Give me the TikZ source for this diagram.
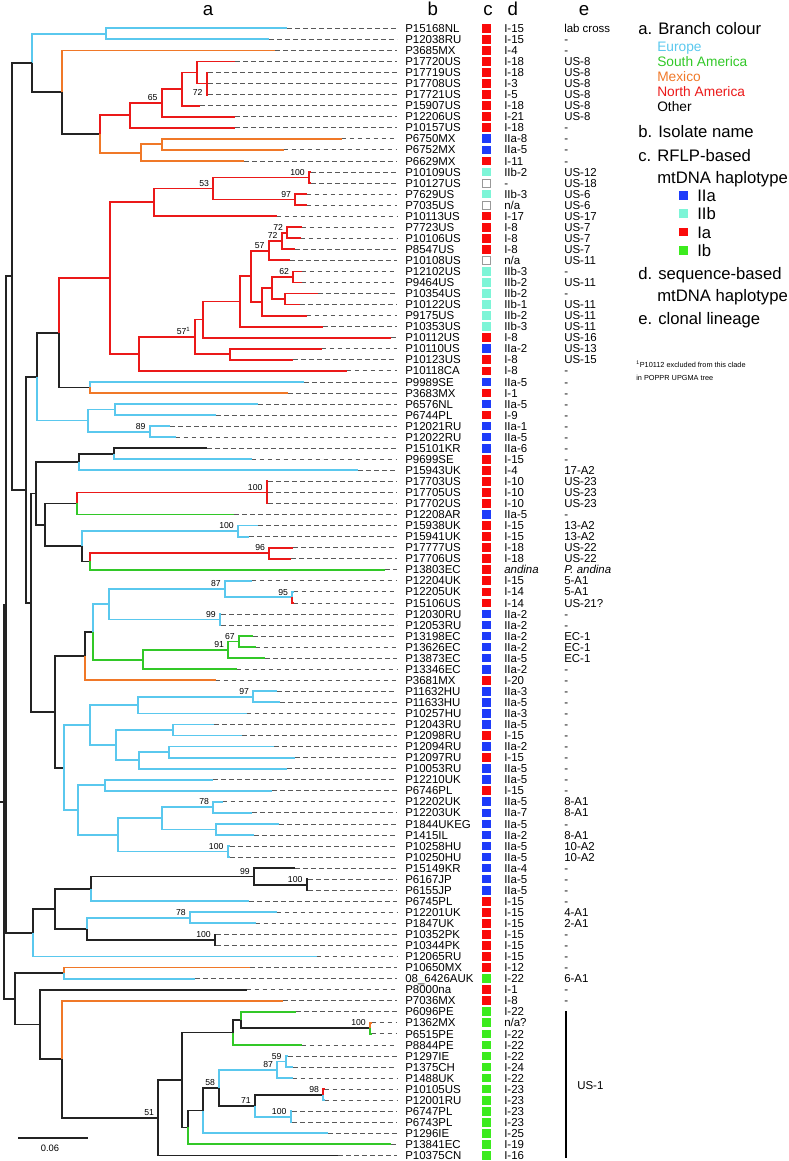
\documentclass[tikz,border=0pt]{standalone}
\usepackage{fontspec}
\setmainfont{Liberation Sans}
\usepackage{xcolor}
\usepackage{tikz}
\usetikzlibrary{positioning}
\definecolor{europe}{RGB}{90,200,238}
\definecolor{southam}{RGB}{50,200,40}
\definecolor{mexico}{RGB}{240,120,40}
\definecolor{northam}{RGB}{235,25,25}
\definecolor{other}{RGB}{35,35,35}
\definecolor{hapIa}{RGB}{250,10,10}
\definecolor{hapIb}{RGB}{60,235,30}
\definecolor{hapIIa}{RGB}{30,60,250}
\definecolor{hapIIb}{RGB}{125,245,215}

\begin{document}
\begin{tikzpicture}[x=0.75pt, y=-0.75pt,
    br/.style={line width=1.35pt},
    brEU/.style={br, draw=europe},
    brSA/.style={br, draw=southam},
    brMX/.style={br, draw=mexico},
    brNA/.style={br, draw=northam},
    brOT/.style={br, draw=other},
    lead/.style={draw=black!65, line width=0.6pt, dash pattern=on 3.5pt off 2.5pt, shorten >=6pt},
    leaf/.style={anchor=west, inner sep=0pt, font=\fontsize{8.6}{10}\selectfont, text height=6.2pt, text depth=0pt},
    hap/.style={minimum size=6.5pt, inner sep=0pt, outer sep=0pt},
    hIa/.style={hap, fill=hapIa},
    hIb/.style={hap, fill=hapIb},
    hIIa/.style={hap, fill=hapIIa},
    hIIb/.style={hap, fill=hapIIb},
    hNA/.style={hap, fill=white, draw=black!40, line width=0.5pt, minimum size=6pt},
    boot/.style={anchor=south east, inner sep=0pt, xshift=-3pt, yshift=1.5pt, font=\fontsize{6.5}{7}\selectfont},
    head/.style={anchor=base, inner sep=0pt, font=\fontsize{14}{16}\selectfont},
    lgmain/.style={anchor=west, inner sep=0pt, font=\fontsize{12.5}{14}\selectfont, text height=9pt, text depth=0pt},
    lgsub/.style={anchor=west, inner sep=0pt, font=\fontsize{10.3}{12}\selectfont, text height=7.4pt, text depth=0pt},
    foot/.style={anchor=west, inner sep=0pt, font=\fontsize{5.5}{6.5}\selectfont, text height=3.9pt, text depth=0pt}]

  \useasboundingbox (0,0) rectangle (789,1161);

  \node[head] (hda) at (208,15) {a};
  \node[head] (hdb) at (432.7,15) {b};
  \node[head] (hdc) at (488,15) {c};
  \node[head] (hdd) at (512.7,15) {d};
  \node[head] (hde) at (584,15) {e};

  \begin{scope}[y=-8.2875pt, yshift=-12.94pt]
    \foreach \n/\x/\y in {A/105.7/1.5, B/31.7/4.14, C/62/6.78, D/100.3/10.56, E/130/8.875,
        F/161.7/7.75, G/182.3/6.5, H/196.7/5, I/206.7/6, J/140.7/12.25, K/162/11.5,
        EE/12/23.45, DD/26/42.75, BB/37.3/32.53, L/59/28.55, M/110/23.61, N/90/33.5,
        O/154/16.75, P/213.3/15.5, Q/309/14.5, R/295.3/16.5, S/138.7/30.47, T/194.7/28.93,
        U/230/30.5, V/203.3/27.36, W/240/25.72, X/250.7/23.44, Y/262.3/25.75, Z/271.7/24.5,
        nd1920/287.3/19.5, nd1921/281.7/20.25, nd1922/268.7/21.13, nd2324/293.3/23.5, nd2526/285/25.5,
        CC/87.7/36.5, nd3536/114.7/35.5, nd3738/149.7/37.5,
        FF/30.7/52.98, GG/36/43.09, HH/79/40.25, nd3940/114/39.5, II/45/45.94, JJ/77.3/44,
        nd4244/266.7/43, KK/82.3/47.88, nd4647/238/46.5, LL/90/49.25, nd4849/269.3/48.5,
        MM/55/62.86, NN/85/57.81, OO/93.3/55.63, PP/109.3/53.13, nd5153/225/51.75,
        nd5253/292.3/52.5, nd5455/220/54.5, RR/143.3/58.13, nd5658/228.3/57.25, nd5657/239/56.5,
        SS/64/67.91, TT/90/64.06, UU/138.3/62.25, nd6162/253.3/61.5, VV/116/65.88,
        nd6465/173.3/64.5, WW/139/67.25, nd6667/169.3/66.5, XX/78.3/71.75, nd6970/105/69.5,
        YY/118.3/74, ZZ/161.7/72.5, nd7172/213.3/71.5, nd7374/215.7/73.5, nd7576/227.7/75.5,
        ROOT/4/70.99, R1/6/53.15, AAA/33.3/82.84, BBB/55/80.69, CCC/91/78.88,
        nd7779/254/77.75, nd7879/306.7/78.5, DDD/86.7/82.5, nd8182/190/81.5, nd8384/215/83.5,
        R2/15/88.82, EEE/64.3/86.5, FFF/40/91.15, GGG/61.7/94.3, nd51/158.3/99.59,
        HHH/181.7/96.17, III/233.3/91.88, JJJ/240.7/90.75, nd9192/370/91.5, KKK/188.3/100.47,
        LLL/203.3/98.94, MMM/219.3/96.88, nd9496/277.3/95.25, nd9495/285.7/94.5, nd71/255/98.5,
        nd9798/323.3/97.5, nd99100/290.7/99.5}
      \coordinate (\n) at (\x,\y);

    \foreach \p/\c/\b in {B/A/brEU, B/C/brOT, C/D/brOT, D/E/brNA, D/J/brMX, E/F/brNA,
        F/G/brNA, G/H/brNA, H/I/brNA, J/K/brMX, EE/B/brOT, EE/DD/brOT, DD/BB/brOT,
        DD/FF/brOT, BB/L/brOT, BB/CC/brEU, L/M/brNA, L/N/brOT, M/O/brNA, M/S/brNA,
        O/P/brNA, P/Q/brNA, P/R/brNA, S/T/brNA, T/V/brNA, T/U/brNA, V/W/brNA, W/X/brNA,
        X/nd1922/brNA, X/Y/brNA, nd1922/nd1921/brNA, nd1921/nd1920/brNA, Y/Z/brNA,
        Z/nd2324/brNA, Z/nd2526/brNA, CC/nd3536/brEU, CC/nd3738/brEU, FF/GG/brOT, FF/MM/brOT,
        GG/HH/brOT, GG/II/brOT, HH/nd3940/brOT, II/JJ/brOT, II/KK/brOT, JJ/nd4244/brNA,
        KK/nd4647/brEU, KK/LL/brOT, LL/nd4849/brNA, MM/NN/brOT, MM/SS/brOT, NN/OO/brOT,
        OO/PP/brEU, OO/RR/brSA, PP/nd5153/brEU, PP/nd5455/brEU, nd5153/nd5253/brEU,
        RR/nd5658/brSA, nd5658/nd5657/brSA, SS/TT/brEU, SS/XX/brEU, TT/UU/brEU, TT/VV/brEU,
        UU/nd6162/brEU, VV/nd6465/brEU, VV/WW/brEU, WW/nd6667/brEU, XX/nd6970/brEU, XX/YY/brEU,
        YY/ZZ/brEU, YY/nd7576/brEU, ZZ/nd7172/brEU, ZZ/nd7374/brEU, ROOT/R1/brOT, ROOT/R2/brOT,
        R1/EE/brOT, R1/AAA/brOT, AAA/BBB/brOT, BBB/CCC/brOT, BBB/DDD/brOT, CCC/nd7779/brOT,
        nd7779/nd7879/brOT, DDD/nd8182/brEU, DDD/nd8384/brOT, R2/EEE/brOT, R2/FFF/brOT,
        FFF/GGG/brOT, GGG/nd51/brOT, nd51/HHH/brOT, HHH/III/brOT, HHH/KKK/brOT, III/JJJ/brOT,
        JJJ/nd9192/brOT, KKK/LLL/brOT, LLL/MMM/brOT, MMM/nd9496/brEU, MMM/nd71/brOT,
        nd9496/nd9495/brEU, nd71/nd9798/brOT, nd71/nd99100/brEU}
      \draw[\b] (\p) |- (\c);

    \foreach \i/\p/\b/\t/\nm/\hp/\hd/\cl in {
        1/A/brEU/287/P15168NL/hIa/I-15/lab cross,
        2/A/brEU/269/P12038RU/hIa/I-15/-,
        3/C/brMX/275.3/P3685MX/hIa/I-4/-,
        4/H/brNA/235.3/P17720US/hIa/I-18/US-8,
        5/I/brNA/208/P17719US/hIa/I-18/US-8,
        6/I/brNA/208/P17708US/hIa/I-3/US-8,
        7/I/brNA/208/P17721US/hIa/I-5/US-8,
        8/G/brNA/200/P15907US/hIa/I-18/US-8,
        9/F/brNA/235.3/P12206US/hIa/I-21/US-8,
        10/E/brNA/235.3/P10157US/hIa/I-18/-,
        11/K/brMX/341.7/P6750MX/hIIa/IIa-8/-,
        12/K/brMX/283.7/P6752MX/hIIa/IIa-5/-,
        13/J/brMX/244.3/P6629MX/hIa/I-11/-,
        14/Q/brNA/311/P10109US/hIIb/IIb-2/US-12,
        15/Q/brNA/311/P10127US/hNA/-/US-18,
        16/R/brNA/306.7/P7629US/hIIb/IIb-3/US-6,
        17/R/brNA/306.7/P7035US/hNA/{n/a}/US-6,
        18/O/brNA/276.7/P10113US/hIa/I-17/US-17,
        19/nd1920/brNA/301.7/P7723US/hIa/I-8/US-7,
        20/nd1920/brNA/300.7/P10106US/hIa/I-8/US-7,
        21/nd1921/brNA/295/P8547US/hIa/I-8/US-7,
        22/nd1922/brNA/290/P10108US/hNA/{n/a}/US-11,
        23/nd2324/brNA/301.7/P12102US/hIIb/IIb-3/-,
        24/nd2324/brNA/301.7/P9464US/hIIb/IIb-2/US-11,
        25/nd2526/brNA/318.3/P10354US/hIIb/IIb-2/-,
        26/nd2526/brNA/300/P10122US/hIIb/IIb-1/US-11,
        27/Y/brNA/306.7/P9175US/hIIb/IIb-2/US-11,
        28/W/brNA/323.3/P10353US/hIIb/IIb-3/US-11,
        29/V/brNA/391/P10112US/hIa/I-8/US-16,
        30/U/brNA/321.7/P10110US/hIIa/IIa-2/US-13,
        31/U/brNA/293.3/P10123US/hIa/I-8/US-15,
        32/S/brNA/346.7/P10118CA/hIa/I-8/-,
        33/N/brEU/304/P9989SE/hIIa/IIa-5/-,
        34/N/brMX/288.3/P3683MX/hIa/I-1/-,
        35/nd3536/brEU/258.3/P6576NL/hIIa/IIa-5/-,
        36/nd3536/brEU/216/P6744PL/hIa/I-9/-,
        37/nd3738/brEU/170/P12021RU/hIIa/IIa-1/-,
        38/nd3738/brEU/175.7/P12022RU/hIIa/IIa-5/-,
        39/nd3940/brOT/207.3/P15101KR/hIIa/IIa-6/-,
        40/nd3940/brEU/251.7/P9699SE/hIa/I-15/-,
        41/HH/brEU/358.3/P15943UK/hIa/I-4/17-A2,
        42/nd4244/brNA/268/P17703US/hIa/I-10/US-23,
        43/nd4244/brNA/268/P17705US/hIa/I-10/US-23,
        44/nd4244/brNA/268/P17702US/hIa/I-10/US-23,
        45/JJ/brSA/234.3/P12208AR/hIIa/IIa-5/-,
        46/nd4647/brEU/258.3/P15938UK/hIa/I-15/13-A2,
        47/nd4647/brEU/249.3/P15941UK/hIa/I-15/13-A2,
        48/nd4849/brNA/293.3/P17777US/hIa/I-18/US-22,
        49/nd4849/brNA/291/P17706US/hIa/I-18/US-22,
        50/LL/brSA/385/P13803EC/hIa/\textit{andina}/\textit{P. andina},
        51/nd5153/brEU/251.7/P12204UK/hIa/I-15/5-A1,
        52/nd5253/brEU/293.5/P12205UK/hIa/I-14/5-A1,
        53/nd5253/brNA/293.5/P15106US/hIa/I-14/US-21?,
        54/nd5455/brEU/221/P12030RU/hIIa/IIa-2/-,
        55/nd5455/brEU/221/P12053RU/hIIa/IIa-2/-,
        56/nd5657/brSA/253.3/P13198EC/hIIa/IIa-2/EC-1,
        57/nd5657/brSA/255.7/P13626EC/hIIa/IIa-2/EC-1,
        58/nd5658/brSA/265/P13873EC/hIIa/IIa-5/EC-1,
        59/RR/brSA/236.7/P13346EC/hIIa/IIa-2/-,
        60/NN/brMX/215.7/P3681MX/hIa/I-20/-,
        61/nd6162/brEU/277.3/P11632HU/hIIa/IIa-3/-,
        62/nd6162/brEU/280/P11633HU/hIIa/IIa-5/-,
        63/UU/brEU/246.7/P10257HU/hIIa/IIa-3/-,
        64/nd6465/brEU/214.3/P12043RU/hIIa/IIa-5/-,
        65/nd6465/brEU/242.3/P12098RU/hIa/I-15/-,
        66/nd6667/brEU/274.3/P12094RU/hIIa/IIa-2/-,
        67/nd6667/brEU/295/P12097RU/hIa/I-15/-,
        68/WW/brEU/287.3/P10053RU/hIIa/IIa-5/-,
        69/nd6970/brEU/213.3/P12210UK/hIIa/IIa-5/-,
        70/nd6970/brEU/272.3/P6746PL/hIa/I-15/-,
        71/nd7172/brEU/222.7/P12202UK/hIIa/IIa-5/8-A1,
        72/nd7172/brEU/252.3/P12203UK/hIIa/IIa-7/8-A1,
        73/nd7374/brEU/279.3/P1844UKEG/hIIa/IIa-5/-,
        74/nd7374/brEU/254.3/P1415IL/hIIa/IIa-2/8-A1,
        75/nd7576/brEU/230/P10258HU/hIIa/IIa-5/10-A2,
        76/nd7576/brEU/230/P10250HU/hIIa/IIa-5/10-A2,
        77/nd7779/brOT/295/P15149KR/hIIa/IIa-4/-,
        78/nd7879/brOT/308/P6167JP/hIIa/IIa-5/-,
        79/nd7879/brOT/308/P6155JP/hIIa/IIa-5/-,
        80/CCC/brEU/249.3/P6745PL/hIa/I-15/-,
        81/nd8182/brEU/276.7/P12201UK/hIa/I-15/4-A1,
        82/nd8182/brEU/255.7/P1847UK/hIa/I-15/2-A1,
        83/nd8384/brOT/216/P10352PK/hIa/I-15/-,
        84/nd8384/brOT/216/P10344PK/hIa/I-15/-,
        85/AAA/brEU/316.7/P12065RU/hIa/I-15/-,
        86/EEE/brMX/250/P10650MX/hIa/I-12/-,
        87/EEE/brEU/195/08\_6426AUK/hIb/I-22/6-A1,
        88/FFF/brOT/246.7/P8000na/hIa/I-1/-,
        89/GGG/brMX/283.3/P7036MX/hIa/I-8/-,
        90/JJJ/brSA/296/P6096PE/hIb/I-22/{},
        91/nd9192/brMX/371.5/P1362MX/hIb/{n/a?}/{},
        92/nd9192/brSA/371.5/P6515PE/hIb/I-22/{},
        93/III/brSA/301.7/P8844PE/hIb/I-22/{},
        94/nd9495/brEU/288.3/P1297IE/hIb/I-22/{},
        95/nd9495/brEU/293.3/P1375CH/hIb/I-24/{},
        96/nd9496/brEU/292.7/P1488UK/hIb/I-22/{},
        97/nd9798/brNA/324.5/P10105US/hIb/I-23/{},
        98/nd9798/brEU/324.5/P12001RU/hIb/I-23/{},
        99/nd99100/brEU/292/P6747PL/hIb/I-23/{},
        100/nd99100/brEU/292/P6743PL/hIb/I-23/{},
        101/LLL/brEU/328.3/P1296IE/hIb/I-25/{},
        102/KKK/brSA/391/P13841EC/hIb/I-19/{},
        103/nd51/brOT/338.3/P10375CN/hIb/I-16/{}}{
      \coordinate (t\i) at (\t,\i);
      \draw[\b] (\p) |- (t\i);
      \node[leaf] (n\i) at (405,\i) {\nm};
      \draw[lead] (t\i) -- (n\i.west);
      \node[\hp] (h\i) at (486.5,\i) {};
      \node[leaf] (d\i) at (504,\i) {\hd};
      \node[leaf] (e\i) at (564,\i) {\cl};
    }

    \foreach \n/\v in {F/65, nd1920/72, nd1921/72, nd1922/57, nd2324/62, P/53, Q/100, R/97,
        T/57\textsuperscript{1}, nd3738/89, nd4244/100, nd4647/100, nd4849/96, nd5153/87, nd5253/95,
        nd5455/99, nd5657/67, nd5658/91, nd6162/97, nd7172/78, nd7576/100, nd7779/99, nd7879/100,
        nd8182/78, nd8384/100, nd9192/100, nd9495/59, nd9496/87, MMM/58, nd71/71, nd9798/98,
        nd99100/100, nd51/51}
      \node[boot] (bs\n) at (\n) {\v};
    \node[boot, anchor=east, yshift=0pt] (bsI) at (I |- t7) {72};

    \coordinate (r0) at (0,70.99);
    \draw[brOT] (r0) -- (ROOT);
  \end{scope}

  \coordinate (us1t) at (566,1011);
  \coordinate (us1b) at (566,1158);
  \draw[line width=1.6pt] (us1t) -- (us1b);
  \node[leaf] (us1) at (577,1085) {US-1};

  \coordinate (sbl) at (18.3,1138);
  \coordinate (sbr) at (87.7,1138);
  \draw[line width=1pt, other] (sbl) -- (sbr);
  \node[inner sep=0pt, font=\fontsize{7}{8}\selectfont, text height=5pt, text depth=0pt] (sbt) at (50,1148.5) {0.06};

  \node[lgmain] (lga) at (638,28) {a. Branch colour};
  \node[lgsub, text=europe] (lgeu) at (657,46.5) {Europe};
  \node[lgsub, text=southam] (lgsa) at (657,61.7) {South America};
  \node[lgsub, text=mexico] (lgmx) at (657,77) {Mexico};
  \node[lgsub, text=northam] (lgna) at (657,91.3) {North America};
  \node[lgsub] (lgot) at (657,106.3) {Other};
  \node[lgmain] (lgb) at (638,131.5) {b. Isolate name};
  \node[lgmain] (lgc) at (638,155) {c. RFLP-based};
  \node[lgmain] (lgc2) at (657,177.5) {mtDNA haplotype};
  \node[hIIa] (lqIIa) at (683.3,195.8) {};
  \node[lgmain] (lgIIa) at (697,195.8) {IIa};
  \node[hIIb] (lqIIb) at (683.3,213.5) {};
  \node[lgmain] (lgIIb) at (697,213.5) {IIb};
  \node[hIa] (lqIa) at (683.3,232) {};
  \node[lgmain] (lgIa) at (697,232) {Ia};
  \node[hIb] (lqIb) at (683.3,250.8) {};
  \node[lgmain] (lgIb) at (697,250.8) {Ib};
  \node[lgmain] (lgd) at (638,273) {d. sequence-based};
  \node[lgmain] (lgd2) at (657,295.5) {mtDNA haplotype};
  \node[lgmain] (lge) at (638,318) {e. clonal lineage};
  \node[foot] (fn1) at (636,365) {\textsuperscript{1}P10112 excluded from this clade};
  \node[foot] (fn2) at (636,378) {in POPPR UPGMA tree};
\end{tikzpicture}
\end{document}
